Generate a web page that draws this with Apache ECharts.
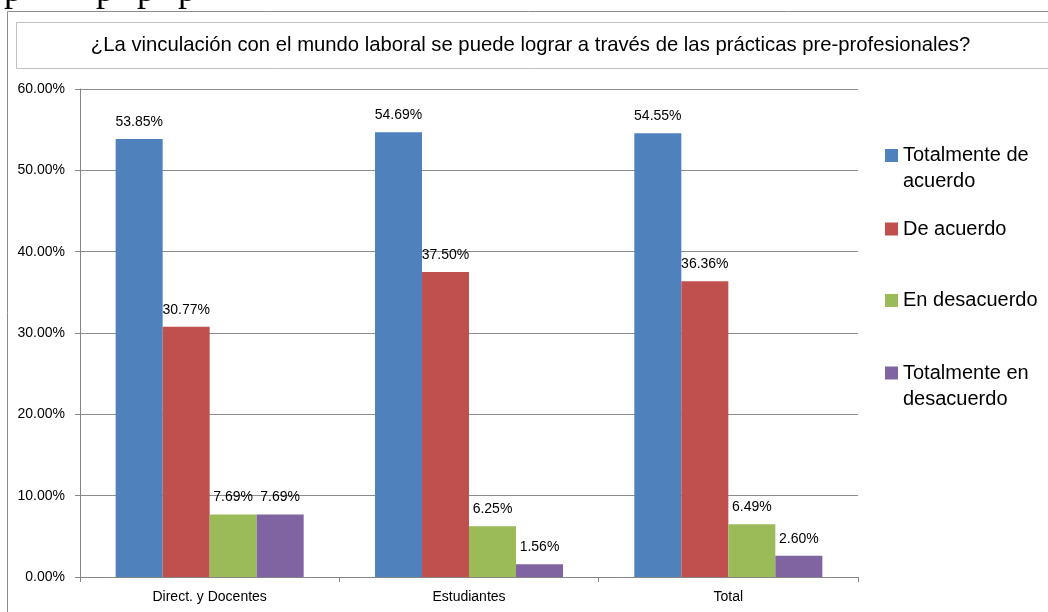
<!DOCTYPE html>
<html>
<head>
<meta charset="utf-8">
<script src="https://cdn.jsdelivr.net/npm/echarts@6/dist/echarts.min.js"></script>
<style>
  html, body { margin: 0; padding: 0; background: #fff; }
  #chart { width: 1048px; height: 612px; }
</style>
</head>
<body>
<div id="chart"></div>
<script>
// datos
const categorias = ['Direct. y Docentes', 'Estudiantes', 'Total'];
const totalmenteDeAcuerdo = [53.85, 54.69, 54.55];
const deAcuerdo = [30.77, 37.50, 36.36];
const enDesacuerdo = [7.69, 6.25, 6.49];
const totalmenteEnDesacuerdo = [7.69, 1.56, 2.60];
const yTicks = [0, 10, 20, 30, 40, 50, 60];

const sTitulo = '¿La vinculación con el mundo laboral se puede lograr a través de las prácticas pre-profesionales?';
const sFont = '"Liberation Sans", Arial, sans-serif';

const aSeries = [
    { name: 'Totalmente de acuerdo', data: totalmenteDeAcuerdo, color: '#4F81BD', lines: ['Totalmente de', 'acuerdo'] },
    { name: 'De acuerdo', data: deAcuerdo, color: '#C0504D', lines: ['De acuerdo'] },
    { name: 'En desacuerdo', data: enDesacuerdo, color: '#9BBB59', lines: ['En desacuerdo'] },
    { name: 'Totalmente en desacuerdo', data: totalmenteEnDesacuerdo, color: '#8064A2', lines: ['Totalmente en', 'desacuerdo'] },
];
// centro del icono de cada leyenda (px)
const aLegendY = [155.5, 229, 300.5, 373];

const chart = echarts.init(document.getElementById('chart'), null, { renderer: 'canvas' });

const legend = aSeries.map((s, i) => {
    const twoLines = s.lines.length > 1;
    return {
        left: 880,
        top: aLegendY[i] - (twoLines ? 44 : 18),
        orient: 'vertical',
        selectedMode: false,
        itemWidth: 13,
        itemHeight: 13,
        icon: 'rect',
        // línea vacía arriba para que la primera línea quede junto al icono
        formatter: () => (twoLines ? ' \n' : '') + s.lines.join('\n'),
        textStyle: {
            fontFamily: sFont,
            fontSize: 20,
            color: '#000',
            lineHeight: 26,
        },
        data: [s.name],
    };
});

const series = aSeries.map(s => ({
    name: s.name,
    type: 'bar',
    data: s.data,
    itemStyle: { color: s.color },
    barGap: '0%',
    barCategoryGap: '27.5%',
    label: {
        show: true,
        position: 'top',
        distance: 10,
        fontFamily: sFont,
        fontSize: 14,
        color: '#000',
        formatter: p => p.value.toFixed(2) + '%',
    },
    emphasis: { disabled: true },
}));

// restos de la línea de texto cortada arriba (solo se ven los rabos de las "p")
const aCortada = [4, 96, 137, 178].map(x => ({
    type: 'text', x, y: 10,
    style: { text: 'p', fontFamily: '"Liberation Serif", serif', fontSize: 36, fill: '#000', verticalAlign: 'bottom' },
    silent: true,
}));

const option = {
    backgroundColor: '#fff',
    animation: false,
    graphic: [
        ...aCortada,
        { type: 'rect', shape: { x: 0, y: 0, width: 1048, height: 11 }, style: { fill: '#fff' }, silent: true, z: -1 },
        { type: 'rect', shape: { x: 7.5, y: 11.5, width: 1100, height: 700 }, style: { fill: '#fff', stroke: '#8c8c8c', lineWidth: 1 }, silent: true },
        { type: 'rect', shape: { x: 16.5, y: 22.5, width: 1100, height: 46 }, style: { fill: null, stroke: '#c0c0c0', lineWidth: 1 }, silent: true },
        { type: 'text', x: 530.5, y: 45, style: { text: sTitulo, fontFamily: sFont, fontSize: 20.3, fill: '#000', align: 'center', verticalAlign: 'middle' }, silent: true },
    ],
    legend,
    grid: { left: 80, right: 190, top: 89, bottom: 35 },
    xAxis: {
        type: 'category',
        data: categorias,
        axisLine: { lineStyle: { color: '#868686' } },
        axisTick: { show: true, length: 5, lineStyle: { color: '#868686' } },
        axisLabel: { fontFamily: sFont, fontSize: 14, color: '#000', margin: 13 },
    },
    yAxis: {
        type: 'value',
        min: yTicks[0],
        max: yTicks[yTicks.length - 1],
        interval: 10,
        axisLine: { show: true, lineStyle: { color: '#868686' } },
        axisTick: { show: true, length: 5, lineStyle: { color: '#868686' } },
        splitLine: { lineStyle: { color: '#8c8c8c' } },
        axisLabel: { fontFamily: sFont, fontSize: 14, color: '#000', margin: 15, formatter: v => v.toFixed(2) + '%' },
    },
    series,
};
chart.setOption(option);
</script>
</body>
</html>
